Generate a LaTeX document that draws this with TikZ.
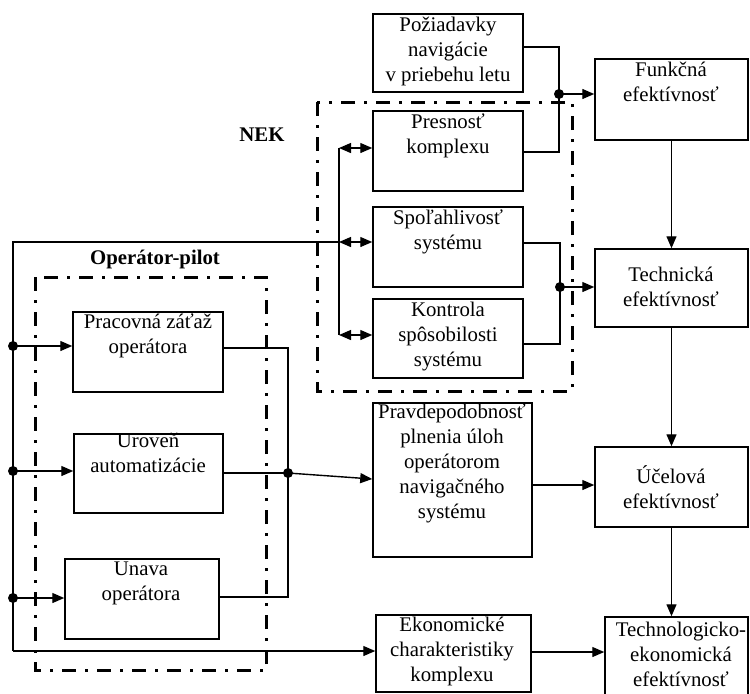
\documentclass[tikz,border=0pt]{standalone}
\usepackage{fontspec}
\setmainfont{Liberation Serif}
\usetikzlibrary{arrows.meta}
\tikzset{
  box/.style={draw, line width=0.75pt, inner sep=0pt},
  txt/.style={anchor=north, align=center, inner sep=0pt,
    font=\fontsize{10.4pt}{12.5pt}\selectfont},
  lbl/.style={font=\fontsize{10.4pt}{12.5pt}\selectfont\bfseries, inner sep=0pt},
  wire/.style={line width=0.7pt},
  arr/.style={wire, -{Triangle[length=6pt,width=5pt]}},
  darr/.style={wire, {Triangle[length=6pt,width=5pt]}-{Triangle[length=6pt,width=5pt]}},
  group/.style={line width=1.5pt, dash pattern=on 7pt off 4.5pt on 1.5pt off 4.5pt},
  dot/.style={circle, fill, inner sep=0pt, minimum size=5pt},
}
\begin{document}
\begin{tikzpicture}[x=0.5pt,y=-0.5pt]
\clip (0,0) rectangle (750,693);

% group frames
\draw[group] (317,102) rectangle (572,391);
\draw[group] (35,277) rectangle (266,670);
\node[lbl] (nek) at (262,135) {NEK};
\node[lbl] (op) at (155,259) {Operátor-pilot};

% boxes
\node[box, minimum width=75pt, minimum height=39pt] (poz) at (448,53) {};
\node[box, minimum width=75pt, minimum height=40pt] (pres) at (448,151) {};
\node[box, minimum width=75pt, minimum height=40pt] (spol) at (448,247) {};
\node[box, minimum width=75pt, minimum height=39.5pt] (kont) at (448,338.5) {};
\node[box, minimum width=76.5pt, minimum height=40.5pt] (funk) at (671.5,99.5) {};
\node[box, minimum width=76.5pt, minimum height=39pt] (tech) at (671.5,288) {};
\node[box, minimum width=76.5pt, minimum height=40pt] (ucel) at (671.5,487) {};
\node[box, minimum width=71.5pt, minimum height=41.5pt] (tek) at (676.5,658.5) {};
\node[box, minimum width=79.5pt, minimum height=77pt] (prav) at (452.5,480) {};
\node[box, minimum width=77.5pt, minimum height=38.5pt] (ekon) at (453.5,653.5) {};
\node[box, minimum width=75pt, minimum height=40pt] (prac) at (148,352) {};
\node[box, minimum width=74.5pt, minimum height=39.5pt] (urov) at (148.5,473.5) {};
\node[box, minimum width=77pt, minimum height=40pt] (unav) at (142,599) {};

% box texts
\node[txt] at (448,17) {Požiadavky\\navigácie\\v priebehu letu};
\node[txt] at (448,113) {Presnosť\\komplexu};
\node[txt] at (448,209) {Spoľahlivosť\\systému};
\node[txt] at (448,302) {Kontrola\\spôsobilosti\\systému};
\node[txt] at (671,62) {Funkčná\\efektívnosť};
\node[txt] at (671,267) {Technická\\efektívnosť};
\node[txt] at (671,465) {Účelová\\efektívnosť};
\node[txt] at (681,622) {Technologicko-\\ekonomická\\efektívnosť};
\node[txt] at (452,403) {Pravdepodobnosť\\plnenia úloh\\operátorom\\navigačného\\systému};
\node[txt] at (452,617) {Ekonomické\\charakteristiky\\komplexu};
\node[txt] at (148,313) {Pracovná záťaž\\operátora};
\node[txt] at (148,433) {Uroveň\\automatizácie};
\node[txt] at (141,561) {Unava\\operátora};

% junctions
\coordinate (jF) at (559,94);
\coordinate (jT) at (560,287);
\coordinate (jP) at (288,473);
\coordinate (busTop) at (339,148);
\coordinate (busMid) at (339,242);
\coordinate (busBot) at (339,335);
\coordinate (loopTop) at (13,242);
\coordinate (loopBot) at (13,651);
\coordinate (d1) at (13,346);
\coordinate (d2) at (13,471);
\coordinate (d3) at (13,598);

% NEK outputs
\draw[wire] (poz.east |- 0,47) -| (jF);
\draw[wire] (pres.east |- 0,152) -| (jF);
\draw[arr] (jF) -- (funk.west |- jF);
\draw[wire] (spol.east |- 0,243) -| (jT);
\draw[wire] (kont.east |- 0,344) -| (jT);
\draw[arr] (jT) -- (tech.west |- jT);

% efficiency chain
\draw[arr] (funk.south) -- (tech.north);
\draw[arr] (tech.south) -- (ucel.north);
\draw[arr] (ucel.south) -- (ucel.south |- tek.north);

% NEK bus
\draw[wire] (busTop) -- (busBot);
\draw[darr] (busTop) -- (pres.west |- busTop);
\draw[darr] (busMid) -- (spol.west |- busMid);
\draw[darr] (busBot) -- (kont.west |- busBot);

% operator feed line
\draw[wire] (busMid) -- (loopTop) -- (loopBot);
\draw[arr] (loopBot) -- (ekon.west |- loopBot);
\draw[arr] (d1) -- (prac.west |- d1);
\draw[arr] (d2) -- (urov.west |- d2);
\draw[arr] (d3) -- (unav.west |- d3);

% operator outputs
\draw[wire] (prac.east |- 0,348) -| (jP);
\draw[wire] (unav.east |- 0,597) -| (jP);
\draw[wire] (urov.east |- jP) -- (jP);
\draw[arr] (jP) -- (prav.west |- 0,479);
\draw[arr] (prav.east |- 0,485) -- (ucel.west |- 0,485);
\draw[arr] (ekon.east |- 0,652) -- (tek.west |- 0,652);

% junction dots
\foreach \p in {jF,jT,jP,d1,d2,d3} \node[dot] at (\p) {};
\end{tikzpicture}
\end{document}
